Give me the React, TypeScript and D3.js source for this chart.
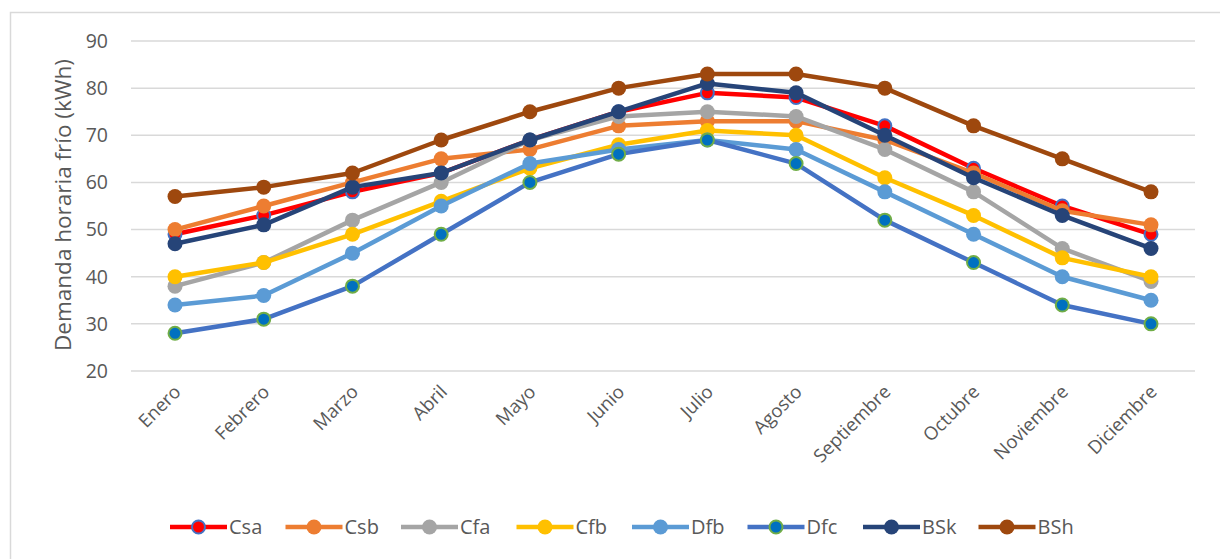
import React from "react";
import * as d3 from "d3";

const months = ["Enero","Febrero","Marzo","Abril","Mayo","Junio","Julio","Agosto","Septiembre","Octubre","Noviembre","Diciembre"];
const yTicks = [20,30,40,50,60,70,80,90];

const Csa = [49,53,58,62,69,75,79,78,72,63,55,49];
const Csb = [50,55,60,65,67,72,73,73,69,62,54,51];
const Cfa = [38,43,52,60,69,74,75,74,67,58,46,39];
const Cfb = [40,43,49,56,63,68,71,70,61,53,44,40];
const Dfb = [34,36,45,55,64,67,69,67,58,49,40,35];
const Dfc = [28,31,38,49,60,66,69,64,52,43,34,30];
const BSk = [47,51,59,62,69,75,81,79,70,61,53,46];
const BSh = [57,59,62,69,75,80,83,83,80,72,65,58];

const seriesNames = ["Csa","Csb","Cfa","Cfb","Dfb","Dfc","BSk","BSh"];
const seriesValues = [Csa,Csb,Cfa,Cfb,Dfb,Dfc,BSk,BSh];
const lineColors = ["#FF0000","#ED7D31","#A5A5A5","#FFC000","#5B9BD5","#4472C4","#264478","#9E480E"];
const markerFill = ["#FF0000","#ED7D31","#A5A5A5","#FFC000","#5B9BD5","#0070C0","#264478","#9E480E"];
const markerStroke = ["#4472C4",null,null,null,null,"#70AD47",null,null];

const W = 1220, H = 559;
const font = "'Open Sans', sans-serif";

export default function App() {
  const x = d3.scalePoint<string>().domain(months).range([175, 1151]);
  const y = d3.scaleLinear().domain([20, 90]).range([371, 41]);
  const line = d3.line<number>().x((_, i) => x(months[i])!).y(d => y(d));

  return (
    <svg width={W} height={H} style={{ position: "absolute", left: 0, top: 0 }}>
      <rect x={0} y={0} width={W} height={H} fill="#fff" />
      <rect x={10.5} y={12.5} width={W + 20} height={H + 20} fill="none" stroke="#d9d9d9" strokeWidth={1.5} />
      {yTicks.map(t => (
        <g key={t}>
          <line x1={131} x2={1195} y1={y(t)} y2={y(t)} stroke="#d9d9d9" strokeWidth={1.5} />
          <text x={108} y={y(t)} dy="0.35em" textAnchor="end" fontFamily={font} fontSize={19.5} fill="#595959">{t}</text>
        </g>
      ))}
      <text transform={`translate(63,205) rotate(-90)`} textAnchor="middle" dy="0.35em" fontFamily={font} fontSize={22.5} fill="#595959">
        Demanda horaria frío (kWh)
      </text>
      {months.map(m => (
        <text key={m} transform={`translate(${x(m)! + 7},${393}) rotate(-45)`} textAnchor="end" fontFamily={font} fontSize={18.5} fill="#595959">{m}</text>
      ))}
      {seriesValues.map((vals, s) => (
        <g key={seriesNames[s]}>
          <path d={line(vals)!} fill="none" stroke={lineColors[s]} strokeWidth={4.5} strokeLinejoin="round" />
          {vals.map((v, i) => (
            <circle key={i} cx={x(months[i])!} cy={y(v)} r={markerStroke[s] ? 6.5 : 7.5}
              fill={markerFill[s]} stroke={markerStroke[s] ?? "none"} strokeWidth={markerStroke[s] ? 2 : 0} />
          ))}
        </g>
      ))}
      {seriesNames.map((n, s) => {
        const lx = 170 + s * 115.5;
        const ly = 527;
        return (
          <g key={n}>
            <line x1={lx} x2={lx + 57} y1={ly} y2={ly} stroke={lineColors[s]} strokeWidth={4.5} />
            <circle cx={lx + 28.5} cy={ly} r={markerStroke[s] ? 6.5 : 7.5} fill={markerFill[s]}
              stroke={markerStroke[s] ?? "none"} strokeWidth={markerStroke[s] ? 2 : 0} />
            <text x={lx + 59} y={ly} dy="0.35em" fontFamily={font} fontSize={20} fill="#595959">{n}</text>
          </g>
        );
      })}
    </svg>
  );
}
